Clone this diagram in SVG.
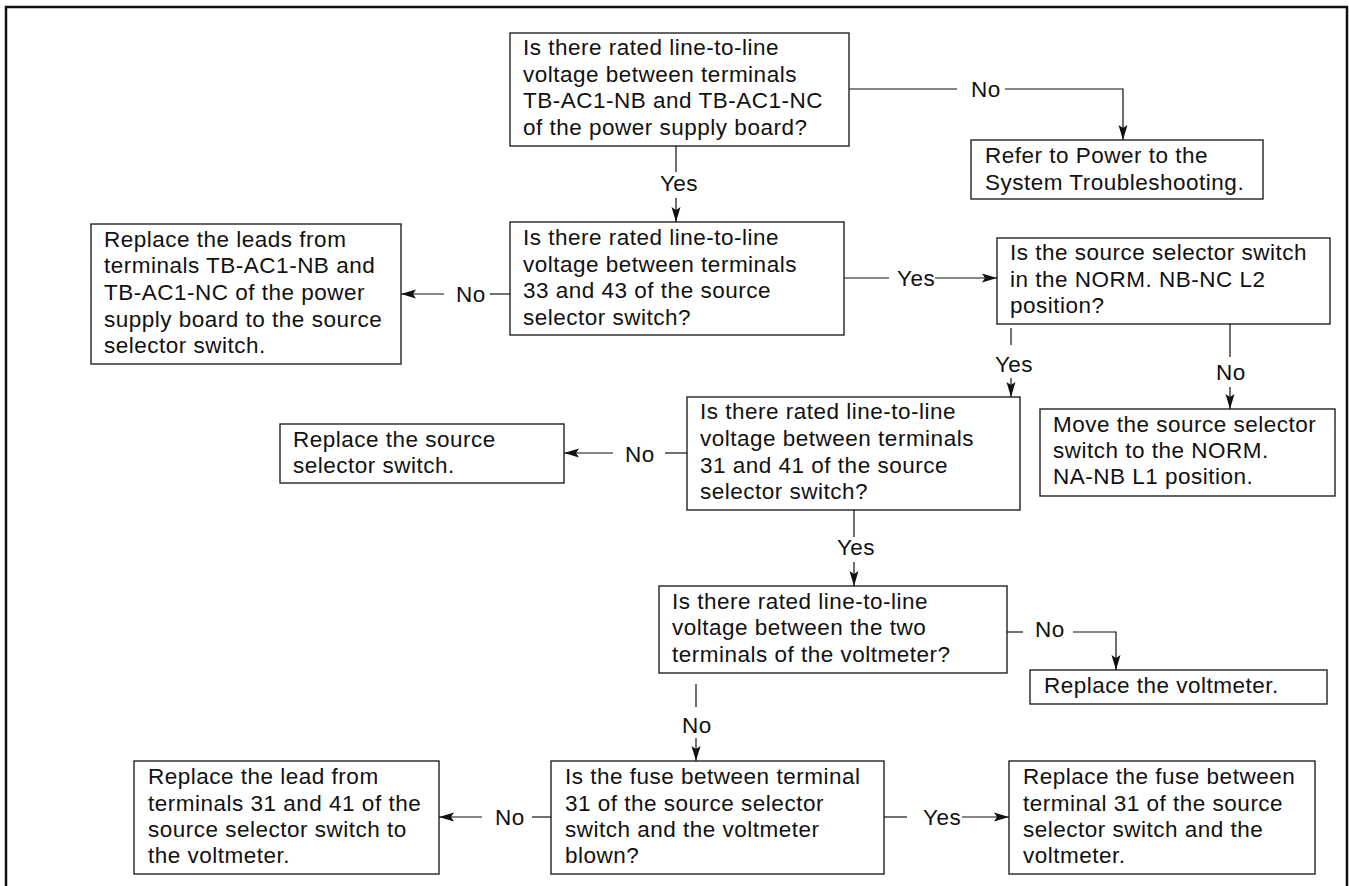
<svg xmlns="http://www.w3.org/2000/svg" width="1349" height="886" viewBox="0 0 1349 886">
<defs>
<style>
.box{fill:#fff;stroke:#222;stroke-width:1.4}
.t{font-family:"Liberation Sans",Arial,sans-serif;font-size:22.5px;letter-spacing:0.5px;fill:#111}
.c{text-anchor:middle}
.ln{fill:none;stroke:#111;stroke-width:1.2}
</style>
<marker id="ah" markerUnits="userSpaceOnUse" markerWidth="16" markerHeight="10" refX="15" refY="5" orient="auto">
<path d="M0,0.5 L15,5 L0,9.5 L3,5 z" fill="#111"/>
</marker>
</defs>
<rect width="1349" height="886" fill="#fff"/>
<path d="M6,886 V7 H1347 V886" fill="none" stroke="#111" stroke-width="2.5"/>

<g id="n1"><rect class="box" x="510" y="33" width="339" height="113"/>
<text class="t" x="523" y="55">Is there rated line-to-line</text>
<text class="t" x="523" y="81.7">voltage between terminals</text>
<text class="t" x="523" y="108.3">TB-AC1-NB and TB-AC1-NC</text>
<text class="t" x="523" y="135">of the power supply board?</text></g>

<g id="n2"><rect class="box" x="971" y="140" width="292" height="59"/>
<text class="t" x="985" y="163.3">Refer to Power to the</text>
<text class="t" x="985" y="190">System Troubleshooting.</text></g>

<g id="n3"><rect class="box" x="510" y="222" width="334" height="113"/>
<text class="t" x="523" y="245">Is there rated line-to-line</text>
<text class="t" x="523" y="271.7">voltage between terminals</text>
<text class="t" x="523" y="298.3">33 and 43 of the source</text>
<text class="t" x="523" y="325">selector switch?</text></g>

<g id="n4"><rect class="box" x="91" y="224" width="310" height="140"/>
<text class="t" x="104" y="246.7">Replace the leads from</text>
<text class="t" x="104" y="273.3">terminals TB-AC1-NB and</text>
<text class="t" x="104" y="300">TB-AC1-NC of the power</text>
<text class="t" x="104" y="326.7">supply board to the source</text>
<text class="t" x="104" y="352.7">selector switch.</text></g>

<g id="n5"><rect class="box" x="997" y="238" width="333" height="86"/>
<text class="t" x="1010" y="260">Is the source selector switch</text>
<text class="t" x="1010" y="286.7">in the NORM. NB-NC L2</text>
<text class="t" x="1010" y="313">position?</text></g>

<g id="n6"><rect class="box" x="687" y="397" width="333" height="113"/>
<text class="t" x="700" y="419.3">Is there rated line-to-line</text>
<text class="t" x="700" y="446">voltage between terminals</text>
<text class="t" x="700" y="472.7">31 and 41 of the source</text>
<text class="t" x="700" y="499">selector switch?</text></g>

<g id="n7"><rect class="box" x="1040" y="409" width="295" height="87"/>
<text class="t" x="1053" y="431.7">Move the source selector</text>
<text class="t" x="1053" y="458.3">switch to the NORM.</text>
<text class="t" x="1053" y="484.3">NA-NB L1 position.</text></g>

<g id="n8"><rect class="box" x="280" y="424" width="284" height="59"/>
<text class="t" x="293" y="446.7">Replace the source</text>
<text class="t" x="293" y="473.3">selector switch.</text></g>

<g id="n9"><rect class="box" x="659" y="586" width="348" height="87"/>
<text class="t" x="672" y="608.7">Is there rated line-to-line</text>
<text class="t" x="672" y="635.3">voltage between the two</text>
<text class="t" x="672" y="661.7">terminals of the voltmeter?</text></g>

<g id="n10"><rect class="box" x="1030" y="670" width="297" height="34"/>
<text class="t" x="1044" y="693">Replace the voltmeter.</text></g>

<g id="n11"><rect class="box" x="551" y="761" width="333" height="113"/>
<text class="t" x="565" y="784.3">Is the fuse between terminal</text>
<text class="t" x="565" y="811">31 of the source selector</text>
<text class="t" x="565" y="836.7">switch and the voltmeter</text>
<text class="t" x="565" y="863.3">blown?</text></g>

<g id="n12"><rect class="box" x="134" y="761" width="305" height="113"/>
<text class="t" x="148" y="784.3">Replace the lead from</text>
<text class="t" x="148" y="811">terminals 31 and 41 of the</text>
<text class="t" x="148" y="836.7">source selector switch to</text>
<text class="t" x="148" y="863.3">the voltmeter.</text></g>

<g id="n13"><rect class="box" x="1009" y="761" width="306" height="113"/>
<text class="t" x="1023" y="784.3">Replace the fuse between</text>
<text class="t" x="1023" y="811">terminal 31 of the source</text>
<text class="t" x="1023" y="836.7">selector switch and the</text>
<text class="t" x="1023" y="863.3">voltmeter.</text></g>

<g id="connectors">
<path class="ln" d="M849,89 H957"/>
<text class="t" x="971" y="97">No</text>
<path class="ln" d="M1005,89 H1123 V140" marker-end="url(#ah)"/>

<path class="ln" d="M676,146 V172"/>
<text class="t c" x="679" y="191">Yes</text>
<path class="ln" d="M676,198 V222" marker-end="url(#ah)"/>

<path class="ln" d="M510,294 H490"/>
<text class="t" x="456" y="302">No</text>
<path class="ln" d="M444,294 H401" marker-end="url(#ah)"/>

<path class="ln" d="M844,278 H889"/>
<text class="t" x="897" y="286">Yes</text>
<path class="ln" d="M935,278 H997" marker-end="url(#ah)"/>

<path class="ln" d="M1011,328 V345"/>
<text class="t c" x="1014" y="372">Yes</text>
<path class="ln" d="M1011,378 V397" marker-end="url(#ah)"/>

<path class="ln" d="M1230,324 V357"/>
<text class="t c" x="1231" y="380">No</text>
<path class="ln" d="M1230,387 V409" marker-end="url(#ah)"/>

<path class="ln" d="M687,453 H665"/>
<text class="t" x="625" y="462">No</text>
<path class="ln" d="M613,453 H564" marker-end="url(#ah)"/>

<path class="ln" d="M854,510 V537"/>
<text class="t c" x="856" y="555">Yes</text>
<path class="ln" d="M854,562 V586" marker-end="url(#ah)"/>

<path class="ln" d="M1007,632 H1023"/>
<text class="t" x="1035" y="637">No</text>
<path class="ln" d="M1073,632 H1116 V670" marker-end="url(#ah)"/>

<path class="ln" d="M696,684 V707"/>
<text class="t c" x="697" y="733">No</text>
<path class="ln" d="M696,738 V761" marker-end="url(#ah)"/>

<path class="ln" d="M551,817 H532"/>
<text class="t" x="495" y="825">No</text>
<path class="ln" d="M482,817 H439" marker-end="url(#ah)"/>

<path class="ln" d="M884,817 H907"/>
<text class="t" x="923" y="825">Yes</text>
<path class="ln" d="M962,817 H1009" marker-end="url(#ah)"/>
</g>
</svg>
